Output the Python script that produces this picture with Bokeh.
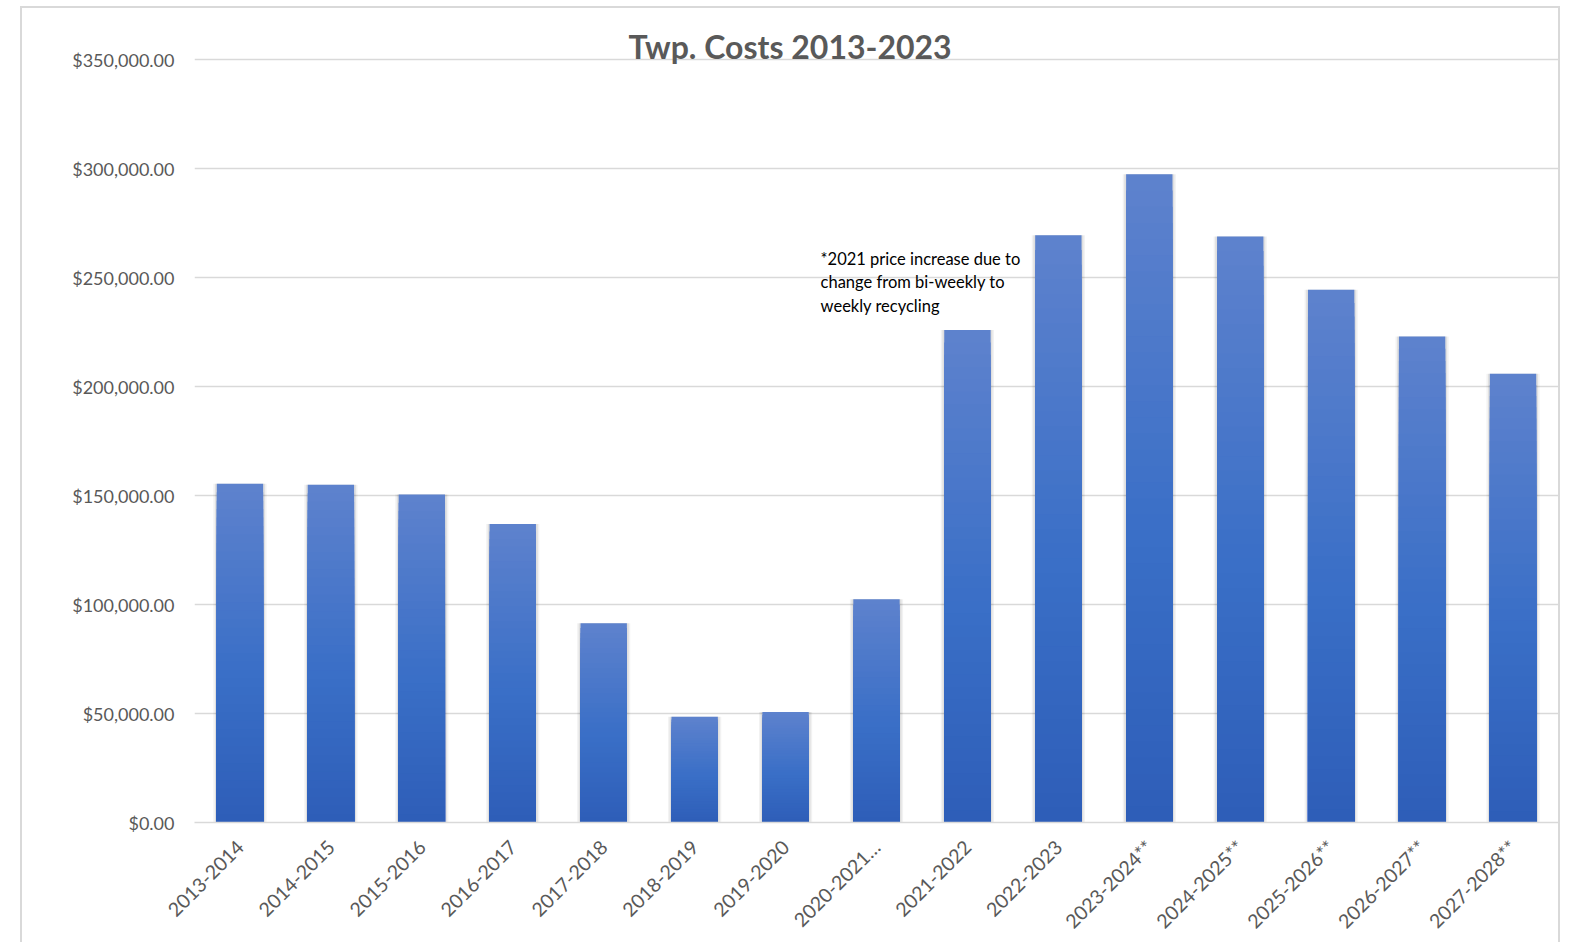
import math
from bokeh.plotting import figure
from bokeh.models import ColumnDataSource, NumeralTickFormatter, Label, FactorRange, Range1d, FixedTicker
from bokeh.embed import file_html
from bokeh.resources import INLINE

# ---- data ----
categories = ["2013-2014", "2014-2015", "2015-2016", "2016-2017", "2017-2018",
              "2018-2019", "2019-2020", "2020-2021…", "2021-2022", "2022-2023",
              "2023-2024**", "2024-2025**", "2025-2026**", "2026-2027**", "2027-2028**"]
costs = [155500, 155000, 150500, 137000, 91500,
         48500, 50700, 102500, 226000, 269500,
         297500, 269000, 244500, 223000, 206000]
y_ticks = [0, 50000, 100000, 150000, 200000, 250000, 300000, 350000]
title_text = "Twp. Costs 2013-2023"
note_text = "*2021 price increase due to\nchange from bi-weekly to\nweekly recycling"

# ---- gradient helper (top light -> mid bright -> bottom dark) ----
stops = [(0.0, (46, 94, 184)), (0.45, (58, 111, 199)), (1.0, (94, 130, 205))]


def grad_color(t):
    for (t0, c0), (t1, c1) in zip(stops[:-1], stops[1:]):
        if t0 <= t <= t1:
            f = (t - t0) / (t1 - t0)
            c = [round(a + (b - a) * f) for a, b in zip(c0, c1)]
            return "#%02x%02x%02x" % tuple(c)
    return "#%02x%02x%02x" % stops[-1][1]


# overlapping layers: tallest (lightest) first, each next layer shorter and darker
N = 40
sx, st, sc = [], [], []
for k in range(N, 0, -1):
    for cat, v in zip(categories, costs):
        sx.append(cat)
        st.append(v * k / N)
        sc.append(grad_color((k - 0.5) / N))
layers = ColumnDataSource(dict(x=sx, top=st, color=sc))
bars = ColumnDataSource(dict(x=categories, top=costs))

p = figure(x_range=FactorRange(*categories), y_range=Range1d(0, 369000),
           width=1540, height=936, output_backend="svg", toolbar_location=None,
           min_border_left=172, min_border_right=4, min_border_top=10, min_border_bottom=122)
p.styles = {"margin-left": "20px", "margin-top": "6px",
            "border-left": "2px solid #d9d9d9", "border-top": "2px solid #d9d9d9",
            "border-right": "2px solid #d9d9d9"}
p.outline_line_color = None
p.background_fill_color = "white"
p.border_fill_color = "white"

# soft shadow behind bars
p.vbar(x="x", top="top", bottom=0, width=0.585, source=bars, fill_color="black",
       fill_alpha=0.05, line_color=None)
p.vbar(x="x", top="top", bottom=0, width=0.55, source=bars, fill_color="black",
       fill_alpha=0.08, line_color=None)
# gradient bars
p.vbar(x="x", bottom=0, top="top", width=0.51, source=layers,
       fill_color="color", line_color=None)

p.xgrid.grid_line_color = None
p.ygrid.grid_line_color = "#d9d9d9"
p.ygrid.grid_line_width = 1.5
p.ygrid.level = "underlay"

p.yaxis.ticker = FixedTicker(ticks=y_ticks)
p.yaxis.formatter = NumeralTickFormatter(format="$0,0.00")
p.yaxis.axis_line_color = None
p.yaxis.major_tick_line_color = None
p.yaxis.minor_tick_line_color = None
p.yaxis.major_label_standoff = 14
p.yaxis.major_label_text_font = "Lato"
p.yaxis.major_label_text_font_size = "18px"
p.yaxis.major_label_text_color = "#595959"

p.xaxis.axis_line_color = "#d9d9d9"
p.xaxis.axis_line_width = 1.5
p.xaxis.major_tick_line_color = None
p.xaxis.minor_tick_line_color = None
p.xaxis.major_label_orientation = math.pi / 4
p.xaxis.major_label_standoff = 15
p.xaxis.major_label_text_font = "Lato"
p.xaxis.major_label_text_font_size = "19.5px"
p.xaxis.major_label_text_color = "#595959"

p.add_layout(Label(x=6.55, y=356000, text=title_text, text_align="center",
                   text_baseline="alphabetic", text_font="Lato", text_font_style="bold",
                   text_font_size="32px", text_color="#595959"))
p.add_layout(Label(x=6.885, y=263200, text=note_text, text_align="left",
                   text_baseline="top", text_font="Lato", text_font_size="16.5px",
                   text_color="black", text_line_height=1.17))

open("out.html", "w").write(file_html(p, INLINE))
